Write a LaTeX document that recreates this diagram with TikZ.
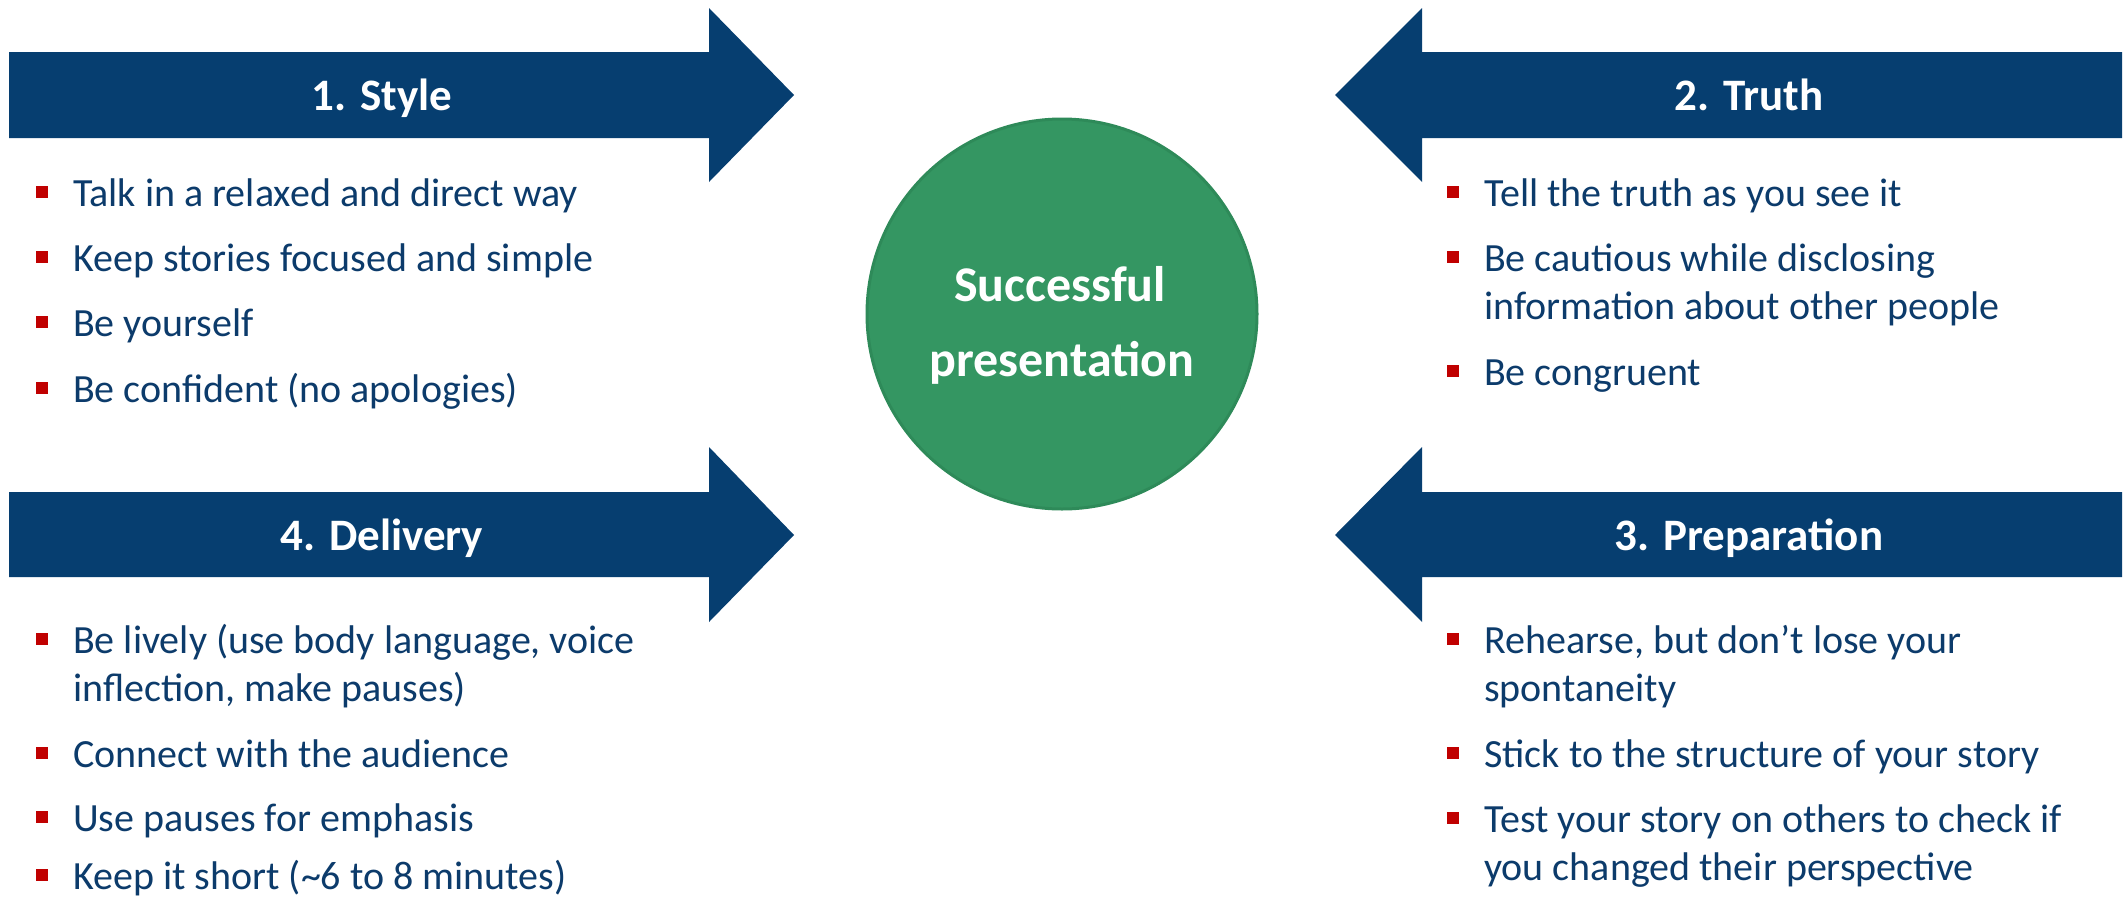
\documentclass[tikz,border=0pt]{standalone}
\usepackage{fontspec}
\setmainfont{Carlito}
\definecolor{navy}{HTML}{063E70}
\definecolor{txtblue}{HTML}{0C3B6B}
\definecolor{bred}{HTML}{C00000}
\definecolor{cgreen}{HTML}{349662}
\definecolor{cgreendark}{HTML}{2E8A59}
\newcommand\bitem[4]{%
  \node[bsq] (#1b) at (#2-37,#3-8) {};
  \node[itemtext] (#1) at (#2,#3) {#4};
}
\begin{document}
\begin{tikzpicture}[x=1pt,y=-1pt,
  arrowshape/.style={fill=navy,draw=none},
  titletext/.style={text=white,font=\fontsize{45}{54}\selectfont\bfseries,inner sep=0,anchor=base},
  itemtext/.style={text=txtblue,font=\fontsize{40}{48}\selectfont,inner sep=0,anchor=base west},
  bsq/.style={fill=bred,draw=none,minimum size=12pt,inner sep=0,anchor=south west},
  ctext/.style={text=white,font=\fontsize{50}{60}\selectfont\bfseries,inner sep=0,anchor=base}
]
\useasboundingbox (0,0) rectangle (2123,900);
\fill[white] (0,0) rectangle (2123,900);

% arrows
\fill[arrowshape] (9,52) -- (709,52) -- (709,8) -- (794,95) -- (709,182) -- (709,138) -- (9,138) -- cycle;
\fill[arrowshape] (2122,52) -- (1422,52) -- (1422,8) -- (1335,95) -- (1422,182) -- (1422,138) -- (2122,138) -- cycle;
\fill[arrowshape] (9,492) -- (709,492) -- (709,447) -- (794,535) -- (709,622) -- (709,577) -- (9,577) -- cycle;
\fill[arrowshape] (2122,492) -- (1422,492) -- (1422,447) -- (1335,535) -- (1422,622) -- (1422,577) -- (2122,577) -- cycle;

\node[titletext] (t1) at (382,110) {1. Style};
\node[titletext] (t2) at (1749,110) {2. Truth};
\node[titletext] (t4) at (382,550) {4. Delivery};
\node[titletext] (t3) at (1749,550) {3. Preparation};

% center circle
\node[circle,fill=cgreen,draw=cgreendark,line width=3pt,minimum size=390pt,inner sep=0] (ctr) at (1062,314) {};
\node[ctext] (c1) at (1060,301) {Successful};
\node[ctext] (c2) at (1062,376) {presentation};

% 1. Style
\bitem{s1}{73}{206}{Talk in a relaxed and direct way}
\bitem{s2}{73}{271}{Keep stories focused and simple}
\bitem{s3}{73}{336}{Be yourself}
\bitem{s4}{73}{402}{Be confident (no apologies)}

% 2. Truth
\bitem{r1}{1484}{206}{Tell the truth as you see it}
\bitem{r2}{1484}{271}{\parbox[t]{600pt}{Be cautious while disclosing\\information about other people}}
\bitem{r3}{1484}{385}{Be congruent}

% 4. Delivery
\bitem{d1}{73}{653}{\parbox[t]{600pt}{Be lively (use body language, voice\\inflection, make pauses)}}
\bitem{d2}{73}{767}{Connect with the audience}
\bitem{d3}{73}{831}{Use pauses for emphasis}
\bitem{d4}{73}{889}{Keep it short (\textasciitilde 6 to 8 minutes)}

% 3. Preparation
\bitem{p1}{1484}{653}{\parbox[t]{620pt}{Rehearse, but don’t lose your\\spontaneity}}
\bitem{p2}{1484}{767}{Stick to the structure of your story}
\bitem{p3}{1484}{832}{\parbox[t]{620pt}{Test your story on others to check if\\you changed their perspective}}
\end{tikzpicture}
\end{document}
